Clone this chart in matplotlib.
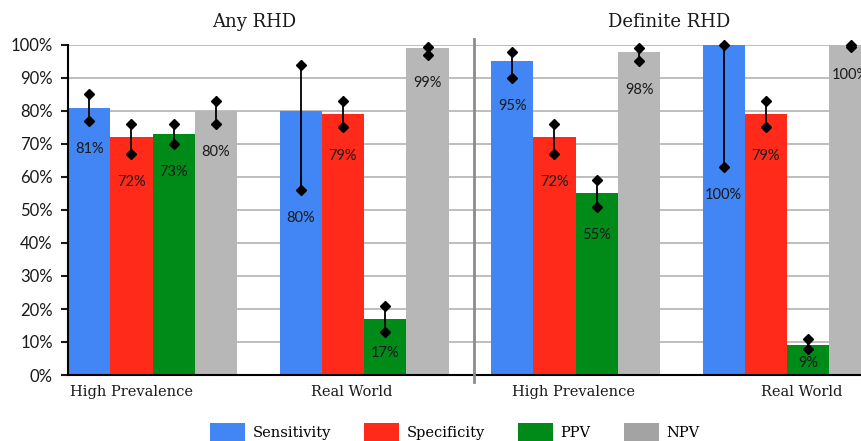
import matplotlib
matplotlib.use("Agg")
import matplotlib.pyplot as plt
from matplotlib.patches import Patch
import numpy as np

panels = ["Any RHD", "Definite RHD"]
groups = ["High Prevalence", "Real World", "High Prevalence", "Real World"]
metrics = ["Sensitivity", "Specificity", "PPV", "NPV"]

sensitivity = [81, 80, 95, 100]
sens_lo = [77, 56, 90, 63]
sens_hi = [85, 94, 98, 100]

specificity = [72, 79, 72, 79]
spec_lo = [67, 75, 67, 75]
spec_hi = [76, 83, 76, 83]

ppv = [73, 17, 55, 9]
ppv_lo = [70, 13, 51, 8]
ppv_hi = [76, 21, 59, 11]

npv = [80, 99, 98, 100]
npv_lo = [76, 97, 95, 99.5]
npv_hi = [83, 99.5, 99, 100]

values = [sensitivity, specificity, ppv, npv]
lows = [sens_lo, spec_lo, ppv_lo, npv_lo]
highs = [sens_hi, spec_hi, ppv_hi, npv_hi]
colors = ["#4285F4", "#FF2A1A", "#008A17", "#B7B7B7"]
legend_colors = ["#4285F4", "#FF2A1A", "#008A17", "#A3A3A3"]

SERIF = "DejaVu Serif"
SANS = "Lato"

fig = plt.figure(figsize=(8.61, 4.41), dpi=100)
ax = fig.add_axes([68 / 861, 66 / 441, 846 / 861, 330 / 441])

group_start = np.arange(len(groups)) * 5
for i, (vals, lo, hi, col) in enumerate(zip(values, lows, highs, colors)):
    x = group_start + i
    ax.bar(x, vals, width=1.0, align="edge", color=col, zorder=2)
    xc = x + 0.5
    ax.vlines(xc, lo, hi, color="black", lw=1.3, zorder=3)
    ax.plot(xc, lo, "D", color="black", ms=5, zorder=4, clip_on=False)
    ax.plot(xc, hi, "D", color="black", ms=5, zorder=4, clip_on=False)
    for xx, v, l in zip(xc, vals, lo):
        ly = max(l - 8.5, v * 0.4)
        ax.text(xx, ly, f"{v}%", ha="center", va="center", fontsize=10.5,
                family=SANS, color="#1a1a1a", zorder=5)

ax.set_xlim(0, 20)
ax.set_ylim(0, 100)
ax.set_yticks(np.arange(0, 101, 10))
ax.set_yticklabels([f"{t}%" for t in range(0, 101, 10)], family=SANS, fontsize=12)
ax.yaxis.grid(True, color="#BEBEBE", lw=1.4, zorder=0)
ax.set_axisbelow(True)
for s in ["top", "right"]:
    ax.spines[s].set_visible(False)
ax.spines["left"].set_linewidth(1.5)
ax.spines["bottom"].set_linewidth(1.5)
ax.tick_params(axis="y", direction="out", length=5, width=1.5, pad=6, colors="#1a1a1a")

# category labels
ax.set_xticks([1.5, 6.7, 11.96, 17.35])
ax.set_xticklabels(groups, family=SERIF, fontsize=10.5, color="#1a1a1a")
ax.tick_params(axis="x", length=0, pad=7)

# separator between panels
ax.plot([9.6, 9.6], [-0.022, 1.018], color="#8C8C8C", lw=2,
        transform=ax.get_xaxis_transform(), clip_on=False, zorder=3)

# panel titles
for px, title in zip([4.4, 14.2], panels):
    ax.text(px, 1.07, title, transform=ax.get_xaxis_transform(), ha="center",
            va="center", family=SERIF, fontsize=13, color="#1a1a1a")

handles = [Patch(facecolor=c) for c in legend_colors]
fig.legend(handles, metrics, loc="center", bbox_to_anchor=(455 / 861, 1 - 432 / 441),
           ncol=4, frameon=False, prop={"family": SERIF, "size": 10.5},
           handlelength=2.4, handleheight=1.5, handletextpad=0.5, columnspacing=2.3)

fig.savefig("out.png", dpi=100)
